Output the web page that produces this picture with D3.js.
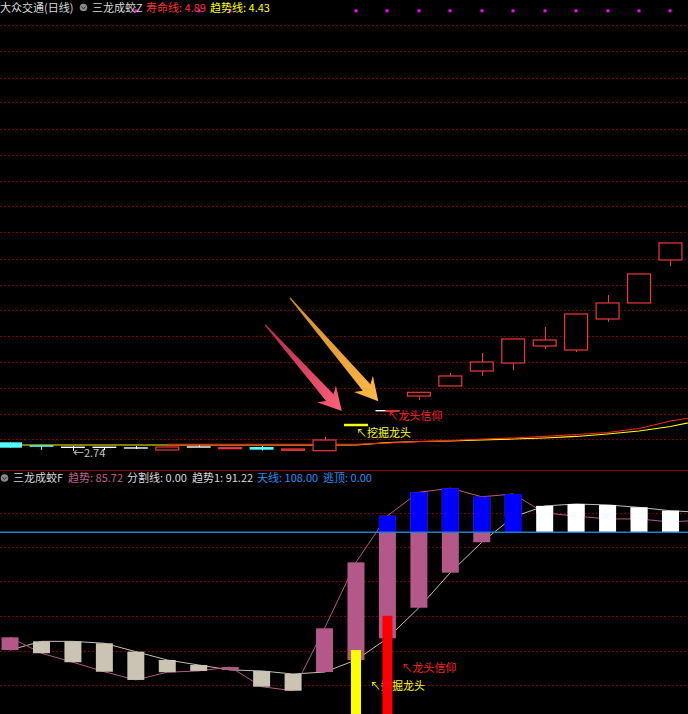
<!DOCTYPE html>
<html><head><meta charset="utf-8">
<script src="https://cdn.jsdelivr.net/npm/d3@7"></script>
<style>html,body{margin:0;padding:0;background:#000;overflow:hidden}</style>
</head><body><svg id="c" width="688" height="714"></svg>
<script>
// ---------- data ----------
// 23 trading days; the 23rd lies just past the right edge (only its line segments show)
const days = ["d01","d02","d03","d04","d05","d06","d07","d08","d09","d10","d11","d12","d13","d14","d15","d16","d17","d18","d19","d20","d21","d22","d23"];
const opens  = [2.918,2.857,2.816,2.816,2.802,2.760,2.822,2.787,2.822,2.754,2.746,3.273,3.567,3.868,4.074,4.381,4.545,4.894,4.812,5.448,5.777,6.659];
const highs  = [2.918,2.857,2.843,2.820,2.843,2.830,2.853,2.808,2.843,2.781,3.033,3.273,3.567,3.944,4.340,4.751,5.038,5.284,5.551,5.941,6.372,7.008];
const lows   = [2.808,2.760,2.740,2.760,2.781,2.760,2.822,2.787,2.750,2.754,2.746,3.273,3.567,3.786,4.074,4.279,4.402,4.833,4.771,5.387,5.777,6.536];
const closes = [2.808,2.828,2.816,2.816,2.802,2.822,2.822,2.808,2.767,2.781,2.966,3.273,3.567,3.944,4.279,4.566,5.038,5.017,5.551,5.777,6.372,7.008];
// 寿命线 (red) and 趋势线 (yellow) on the price panel
const lifeLine  = [null,null,null,null,null,2.877,2.877,2.877,2.877,2.877,2.877,2.877,2.904,2.931,2.955,2.986,3.007,3.038,3.079,3.120,3.202,3.356,3.456];
const trendLine = [2.863,2.863,2.863,2.863,2.863,2.863,2.863,2.863,2.863,2.863,2.863,2.863,2.910,2.935,2.945,2.966,2.986,3.007,3.038,3.089,3.150,3.243,3.372];
// magenta signal dots across the top
const dotSignal = [0,0,0,0,1,0,1,1,0,0,0,1,1,1,1,1,1,1,1,1,1,1];
const dotLevel = 11.77;
const priceGrid = [2.99,3.50,4.03,4.57,5.10,5.64,6.15,6.68,7.24,7.77,8.28,8.82,9.35,9.89,10.40,10.95,11.47];
// lower indicator 三龙成蛟F
const trendVals  = [42.7,32.8,27.2,21.3,16.2,21.0,21.8,24.2,12.0,9.5,48.3,89.3,118.3,132.9,135.4,130.1,131.8,120.0,118.1,116.3,116.3,114.4,115.6];
const trend1Vals = [34.8,40.2,40.2,39.0,33.8,28.6,25.5,22.4,21.8,19.9,21.1,28.6,42.1,61.1,82.9,101.8,117.5,124.4,125.6,125.0,123.5,121.4,120.4];
const skyLine = 108;
const indGrid = [120,99,78,56,34,13];
const digSignal   = {day: 11, value: 34.8};   // 挖掘龙头
const faithSignal = {day: 12, value: 56.1};   // 龙头信仰
const lowMark = {day: 2, price: 2.74, text: "←2.74"};
const topLabels = [
  {day: 11, price: 3.115, text: "↖挖掘龙头", color: "#ffff00"},
  {day: 12, price: 3.458, text: "↖龙头信仰", color: "#ff2020"}
];
const botLabels = [
  {day: 11, value: 12.4, text: "↖挖掘龙头", color: "#ffff00"},
  {day: 12, value: 23.4, text: "↖龙头信仰", color: "#ff2020"}
];
const arrows = [
  {tail:[8.11,5.33], tip:[10.55,3.56], c0:"#b02848", c1:"#ff6078"},
  {tail:[8.90,5.88], tip:[11.71,3.76], c0:"#d08a28", c1:"#ffb848"}
];
const topHeader = [
  {x:0,   text:"大众交通(日线)", color:"#d8d8d8"},
  {x:92,  text:"三龙成蛟Z", color:"#d8d8d8"},
  {x:146, text:"寿命线: 4.89", color:"#ff3030"},
  {x:210, text:"趋势线: 4.43", color:"#ffff00"}
];
const botHeader = [
  {x:13,  text:"三龙成蛟F", color:"#d8d8d8"},
  {x:68,  text:"趋势: 85.72", color:"#c0608f"},
  {x:127, text:"分割线: 0.00", color:"#d8d8d8"},
  {x:192, text:"趋势1: 91.22", color:"#d8d8d8"},
  {x:257, text:"天线: 108.00", color:"#2090f0"},
  {x:323, text:"逃顶: 0.00", color:"#2090f0"}
];

// ---------- scales ----------
const W = 688, H = 714;
const svg = d3.select("#c");
svg.append("rect").attr("width",W).attr("height",H).attr("fill","#000");
const idx = days.map((d,i)=>i);
const candleIdx = opens.map((d,i)=>i);
const x = d3.scaleBand().domain(idx).range([-5.7, 717.65]).padding(0);
const step = x.step();
const xc = i => x(i) + step/2;
const xl = d3.scaleLinear().domain([0, idx.length-1]).range([xc(0), xc(idx.length-1)]);
const yTop = d3.scaleLinear().domain([2.74, 11.5]).range([451, 24]);
const yBot = d3.scaleLinear().domain([0, 120]).range([706, 513]);
const FONT = "'Noto Sans CJK SC','Noto Sans',sans-serif";

// ---------- grid ----------
const grid = svg.append("g").attr("stroke","#7a0000").attr("stroke-dasharray","2,2").attr("stroke-width",1);
priceGrid.forEach(p => grid.append("line").attr("x1",0).attr("x2",W)
  .attr("y1",Math.round(yTop(p))+0.5).attr("y2",Math.round(yTop(p))+0.5));
indGrid.forEach(v => grid.append("line").attr("x1",0).attr("x2",W)
  .attr("y1",Math.round(yBot(v))+0.5).attr("y2",Math.round(yBot(v))+0.5));
svg.append("line").attr("x1",0).attr("x2",W).attr("y1",470.5).attr("y2",470.5)
  .attr("stroke","#8c0000").attr("stroke-width",1);

// ---------- arrows ----------
const defs = svg.append("defs");
arrows.forEach((a,k) => {
  const x0 = xl(a.tail[0]), y0 = yTop(a.tail[1]);
  const x1 = xl(a.tip[0]),  y1 = yTop(a.tip[1]);
  const L = Math.hypot(x1-x0, y1-y0), ang = Math.atan2(y1-y0, x1-x0);
  const hl = 18, sw = 10, hw = 25;
  const pts = [[0,-0.6],[L-hl,-sw/2],[L-hl-5,-hw/2],[L,0],[L-hl-5,hw/2],[L-hl,sw/2],[0,0.6]];
  const gid = "ag"+k;
  const g = defs.append("linearGradient").attr("id",gid).attr("gradientUnits","userSpaceOnUse")
    .attr("x1",x0).attr("y1",y0).attr("x2",x1).attr("y2",y1);
  g.append("stop").attr("offset","0").attr("stop-color",a.c0);
  g.append("stop").attr("offset","1").attr("stop-color",a.c1);
  const tp = pts.map(([u,v]) => [x0 + u*Math.cos(ang) - v*Math.sin(ang), y0 + u*Math.sin(ang) + v*Math.cos(ang)]);
  svg.append("polygon").attr("points", tp.map(p=>p.join(",")).join(" ")).attr("fill","url(#"+gid+")");
});

// ---------- price panel lines ----------
const lineTop = d3.line().defined(d=>d!=null).x((d,i)=>xc(i)).y(d=>yTop(d));
svg.append("path").attr("d", lineTop(trendLine)).attr("fill","none").attr("stroke","#ffff00").attr("stroke-width",1.2);
svg.append("path").attr("d", lineTop(lifeLine)).attr("fill","none").attr("stroke","#ff2020").attr("stroke-width",1.2);

// ---------- candles ----------
const cw = step*0.76;
const cg = svg.append("g");
candleIdx.forEach(i => {
  const o=opens[i], c=closes[i], h=highs[i], l=lows[i];
  const cx = Math.round(xc(i))+0.5;
  let col;
  if (c > o) col = "#f03838"; else if (c < o) col = "#54ffff"; else col = "#ffffff";
  cg.append("line").attr("x1",cx).attr("x2",cx).attr("y1",yTop(h)).attr("y2",yTop(l)).attr("stroke",col).attr("stroke-width",1);
  const top = yTop(Math.max(o,c)), bot = yTop(Math.min(o,c));
  if (c === o) {
    cg.append("line").attr("x1",xc(i)-cw/2).attr("x2",xc(i)+cw/2).attr("y1",top).attr("y2",top).attr("stroke",col).attr("stroke-width",1.4);
  } else if (c > o) {
    cg.append("rect").attr("x",xc(i)-cw/2+0.5).attr("y",top).attr("width",cw-1).attr("height",Math.max(bot-top,1))
      .attr("fill","#000").attr("stroke",col).attr("stroke-width",1.2);
  } else {
    cg.append("rect").attr("x",xc(i)-cw/2).attr("y",top).attr("width",cw).attr("height",Math.max(bot-top,1.5)).attr("fill",col);
  }
});
// signal overlays on price panel
{
  const i = digSignal.day;
  cg.append("line").attr("x1",xc(i)-cw/2).attr("x2",xc(i)+cw/2).attr("y1",yTop(closes[i])).attr("y2",yTop(closes[i]))
    .attr("stroke","#ffff00").attr("stroke-width",2.5);
  const j = faithSignal.day;
  cg.append("line").attr("x1",xc(j)-2).attr("x2",xc(j)+cw/2).attr("y1",yTop(closes[j])).attr("y2",yTop(closes[j]))
    .attr("stroke","#ff2020").attr("stroke-width",1.6);
}
// magenta dots
candleIdx.filter(i=>dotSignal[i]).forEach(i => {
  svg.append("rect").attr("x",Math.round(xc(i))-1.5).attr("y",yTop(dotLevel)-1.5).attr("width",3).attr("height",3).attr("fill","#ff00ff");
});
// labels on price panel
topLabels.forEach(d => svg.append("text").attr("x",xc(d.day)).attr("y",yTop(d.price)).attr("dy","0.36em")
  .attr("fill",d.color).attr("font-family",FONT).attr("font-size",11).text(d.text));
svg.append("text").attr("x",xc(lowMark.day)).attr("y",yTop(lowMark.price)+2).attr("dy","0.36em")
  .attr("fill","#c8c8c8").attr("font-family",FONT).attr("font-size",11).text(lowMark.text);

// ---------- indicator panel ----------
const lineBot = d3.line().x((d,i)=>xc(i)).y(d=>yBot(d));
svg.append("path").attr("d", lineBot(trend1Vals)).attr("fill","none").attr("stroke","#c8c0b0").attr("stroke-width",1);
svg.append("path").attr("d", lineBot(trendVals)).attr("fill","none").attr("stroke","#b4588a").attr("stroke-width",1);
const bw = step*0.54;
idx.forEach(i => {
  const t = trendVals[i], t1 = trend1Vals[i];
  const up = t > t1;
  const top = yBot(Math.max(t,t1)), bot = yBot(Math.min(t,t1));
  svg.append("rect").attr("x",xc(i)-bw/2).attr("y",top).attr("width",bw).attr("height",Math.max(bot-top,2))
    .attr("fill", up ? "#b4588a" : "#cbc3b3");
  const hi = Math.max(t,t1);
  if (hi > skyLine) {
    svg.append("rect").attr("x",xc(i)-bw/2).attr("y",yBot(hi)).attr("width",bw).attr("height",yBot(skyLine)-yBot(hi))
      .attr("fill", up ? "#0000ff" : "#ffffff");
  }
});
svg.append("line").attr("x1",0).attr("x2",W).attr("y1",yBot(skyLine)).attr("y2",yBot(skyLine))
  .attr("stroke","#1f80c8").attr("stroke-width",1.5);
botLabels.forEach(d => svg.append("text").attr("x",xc(d.day)+14).attr("y",yBot(d.value)).attr("dy","0.36em")
  .attr("fill",d.color).attr("font-family",FONT).attr("font-size",11).text(d.text));
const sw2 = step*0.32;
[[digSignal,"#ffff00"],[faithSignal,"#ff0000"]].forEach(([s,col]) => {
  svg.append("rect").attr("x",xc(s.day)-sw2/2).attr("y",yBot(s.value)).attr("width",sw2).attr("height",H-yBot(s.value)).attr("fill",col);
});

// ---------- headers ----------
function icon(cx, cy){
  svg.append("circle").attr("cx",cx).attr("cy",cy).attr("r",3.8).attr("fill","#8a8a8a");
  svg.append("path").attr("d",`M${cx-2},${cy-1} L${cx},${cy+1.5} L${cx+2},${cy-1}`).attr("fill","none").attr("stroke","#333").attr("stroke-width",1);
}
topHeader.forEach(d => svg.append("text").attr("x",d.x).attr("y",12).attr("fill",d.color)
  .attr("font-family",FONT).attr("font-size",11).text(d.text));
icon(83.5, 7.5);
botHeader.forEach(d => svg.append("text").attr("x",d.x).attr("y",482).attr("fill",d.color)
  .attr("font-family",FONT).attr("font-size",11).text(d.text));
icon(4.5, 478);
</script></body></html>
